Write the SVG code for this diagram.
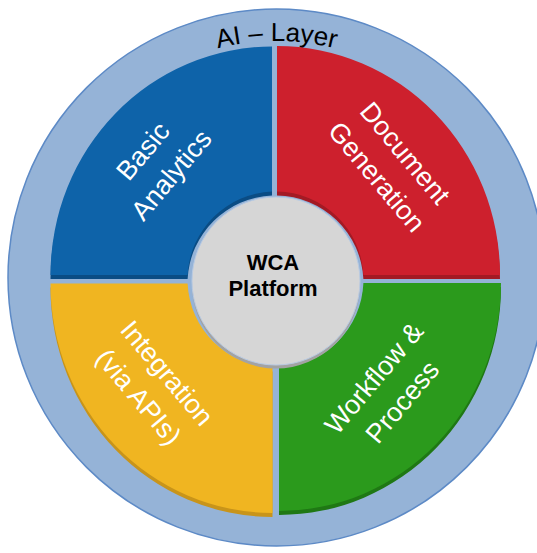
<svg xmlns="http://www.w3.org/2000/svg" width="537" height="553" viewBox="0 0 537 553">
  <style>
    .lbl { font-family: "Liberation Sans", Arial, sans-serif; font-size: 27px; fill: #ffffff; text-anchor: middle; }
    .ttl { font-family: "Liberation Sans", Arial, sans-serif; font-size: 26px; fill: #000000; }
    .ctr { font-family: "Liberation Sans", Arial, sans-serif; font-size: 22px; font-weight: bold; fill: #000000; text-anchor: middle; }
  </style>
  <defs>
    <path id="arcTop" d="M 40,277.5 A 236.5,236.5 0 0 1 513,277.5"/>
  </defs>
  <rect width="537" height="553" fill="#ffffff"/>

  <g id="ai-layer">
    <circle cx="276.5" cy="277.5" r="268.5" fill="#95b3d7" stroke="#5d8ac6" stroke-width="1.5"/>
    <text class="ttl"><textPath href="#arcTop" startOffset="50%" text-anchor="middle">AI – Layer</textPath></text>
  </g>

  <g id="basic-analytics">
    <path transform="translate(0,4)" fill="#0a4c84" d="M 50.5,275 A 221.5,228.5 0 0 1 272,46.5 L 272,191.6 A 88,88 0 0 0 187.6,275 Z"/>
    <path fill="#0e63a9" d="M 50.5,275 A 221.5,228.5 0 0 1 272,46.5 L 272,191.6 A 88,88 0 0 0 187.6,275 Z"/>
    <text class="lbl" transform="translate(150,157) rotate(-50)"><tspan x="0" y="0">Basic</tspan><tspan x="0" y="37">Analytics</tspan></text>
  </g>

  <g id="document-generation">
    <path transform="translate(0,4)" fill="#a31a24" d="M 277,46 A 223,229 0 0 1 500,275 L 363.4,275 A 88,88 0 0 0 277,191.5 Z"/>
    <path fill="#cd202d" d="M 277,46 A 223,229 0 0 1 500,275 L 363.4,275 A 88,88 0 0 0 277,191.5 Z"/>
    <text class="lbl" transform="translate(398,159) rotate(50)"><tspan x="0" y="0">Document</tspan><tspan x="0" y="37">Generation</tspan></text>
  </g>

  <g id="integration">
    <path transform="translate(0,4)" fill="#c8941a" d="M 50.5,283.5 L 187.6,283.5 A 88,88 0 0 0 272.5,367.4 L 272.5,513 A 222,229.5 0 0 1 50.5,283.5 Z"/>
    <path fill="#f0b521" d="M 50.5,283.5 L 187.6,283.5 A 88,88 0 0 0 272.5,367.4 L 272.5,513 A 222,229.5 0 0 1 50.5,283.5 Z"/>
    <text class="lbl" transform="translate(160,379) rotate(50)"><tspan x="0" y="0">Integration</tspan><tspan x="0" y="37">(via APIs)</tspan></text>
  </g>

  <g id="workflow-process">
    <path transform="translate(0,4)" fill="#1f7814" d="M 363.4,283 L 501,283 A 222,228 0 0 1 279,511 L 279,367.4 A 88,88 0 0 0 363.4,283 Z"/>
    <path fill="#2b9a1c" d="M 363.4,283 L 501,283 A 222,228 0 0 1 279,511 L 279,367.4 A 88,88 0 0 0 363.4,283 Z"/>
    <text class="lbl" transform="translate(381,384) rotate(-50)"><tspan x="0" y="0">Workflow &amp;</tspan><tspan x="0" y="37">Process</tspan></text>
  </g>

  <g id="wca-platform">
    <circle cx="276" cy="284.5" r="84" fill="#a3a3a3"/>
    <circle cx="276" cy="281" r="84" fill="#d6d6d6" stroke="#b9cbe3" stroke-width="1"/>
    <text class="ctr"><tspan x="273" y="270">WCA</tspan><tspan x="273" y="296">Platform</tspan></text>
  </g>

  <g id="connectors"></g>
</svg>
